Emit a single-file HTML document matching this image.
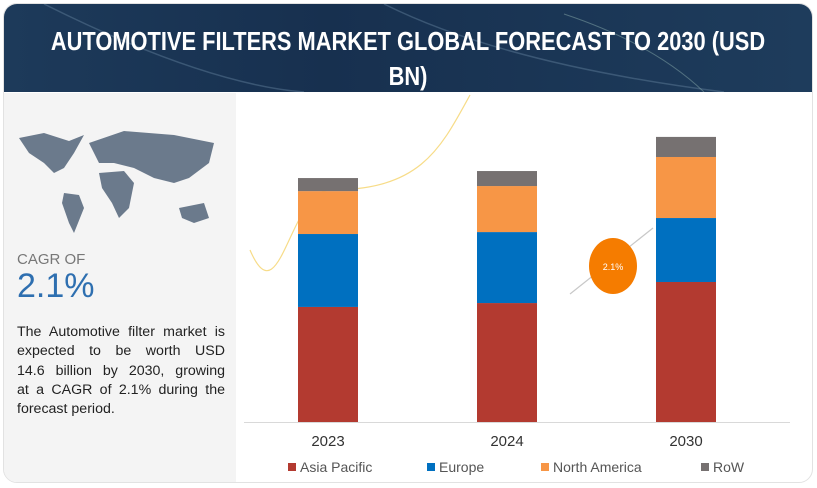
<!DOCTYPE html>
<html><head><meta charset="utf-8"><style>
body{margin:0;width:817px;height:488px;background:#fff;font-family:"Liberation Sans",sans-serif;overflow:hidden;position:relative}
.card{position:absolute;left:3px;top:3px;width:808px;height:478px;border-radius:14px;border:1px solid #e2e2e2;overflow:hidden;background:#fff}
.hdr{position:absolute;left:0;top:0;width:808px;height:88px;background:linear-gradient(90deg,#1d3a5a,#17304f 40%,#1e3c5c);}
.hdr h1{margin:0;position:absolute;left:-46px;width:900px;top:20px;color:#fff;font-size:26px;line-height:35px;text-align:center;font-weight:bold;transform:scaleX(0.84);transform-origin:center}
.left{position:absolute;left:0;top:89px;width:232px;height:390px;background:#f4f4f4}
.sum div{text-align:justify;text-align-last:justify;white-space:nowrap}
.sum div.last{text-align-last:left}
</style></head><body>
<div class="card">
<div class="hdr">
<svg width="808" height="88" style="position:absolute;left:0;top:0">
<path d="M40 0 Q200 80 300 88" stroke="#5c7a95" fill="none" stroke-width="1.5" opacity=".5"/>
<path d="M380 0 Q500 60 720 88" stroke="#5c7a95" fill="none" stroke-width="1.5" opacity=".5"/>
<path d="M560 10 Q650 40 700 88" stroke="#8aa" fill="none" stroke-width="1" opacity=".5"/>
</svg>
<h1>AUTOMOTIVE FILTERS MARKET GLOBAL FORECAST TO 2030 (USD<br>BN)</h1>
</div>
<div class="left">
<svg width="232" height="140" style="position:absolute;left:10px;top:30px">
<path d="M5 15 L30 10 L55 18 L70 12 L60 30 L50 45 L40 50 L30 40 L15 30 Z" fill="#6b7a8c"/>
<path d="M50 70 L65 72 L70 85 L60 110 L55 100 L48 80 Z" fill="#6b7a8c"/>
<path d="M75 20 L110 8 L160 12 L200 20 L195 40 L175 55 L160 60 L140 55 L120 45 L100 40 L85 40 Z" fill="#6b7a8c"/>
<path d="M85 50 L110 48 L120 60 L115 85 L105 95 L98 80 L88 65 Z" fill="#6b7a8c"/>
<path d="M165 85 L190 80 L195 95 L180 100 L168 95 Z" fill="#6b7a8c"/>
</svg>
<div style="position:absolute;left:13px;top:158px;font-size:15px;color:#777">CAGR OF</div>
<div style="position:absolute;left:13px;top:174px;font-size:34px;color:#2e6fb0">2.1%</div>
<div class="sum" style="position:absolute;left:13px;top:230px;width:208px;font-size:14.2px;line-height:19.3px;color:#222"><div>The Automotive filter market is</div><div>expected to be worth USD</div><div>14.6 billion by 2030, growing</div><div>at a CAGR of 2.1% during the</div><div class="last">forecast period.</div></div>
</div>
</div>
<svg id="chart" width="817" height="488" style="position:absolute;left:0;top:0"></svg>
<script>
const categories=["2023","2024","2030"];
const asiaPacific=[5.9,6.1,7.18];
const europe=[3.74,3.64,3.28];
const northAmerica=[2.2,2.36,3.13];
const row=[0.67,0.77,1.03];
const seriesNames=["Asia Pacific","Europe","North America","RoW"];
const NS="http://www.w3.org/2000/svg";
const svg=document.getElementById('chart');
const colors=["#b33a30","#0070c0","#f79646","#767171"];
const series=[asiaPacific,europe,northAmerica,row];
const base=422,ppu=19.5,x0=244,x1=790,barW=60;
function y(v){return base-v*ppu;}
function xc(i){return 328+i*179;}
function mk(t,a){const e=document.createElementNS(NS,t);for(const k in a)e.setAttribute(k,a[k]);svg.appendChild(e);return e;}
let d1=mk('path',{d:"M250 250 C280 320 290 190 330 190 C420 190 440 150 470 95",stroke:"#f5d36a",fill:"none","stroke-width":"1.2",opacity:".8"});


categories.forEach((c,i)=>{
 let acc=0;
 series.forEach((s,j)=>{
  const r=mk('rect',{x:xc(i)-barW/2,y:y(acc+s[i]),width:barW,height:s[i]*ppu,fill:colors[j]});
  
  
  acc+=s[i];
 });
 const t=mk('text',{x:xc(i),y:446,"text-anchor":"middle","font-size":"15",fill:"#333","font-family":"Liberation Sans"});
 t.textContent=c;
 
 
});
const ax=mk('line',{x1:x0,x2:x1,y1:base+0.5,y2:base+0.5,stroke:"#d9d9d9"});


const arr=mk('line',{x1:570,y1:294,x2:653,y2:228,stroke:"#c8c8c8","stroke-width":"1.2"});


const circ=mk('ellipse',{cx:613,cy:266,rx:24,ry:28,fill:"#f57c00"});


const ct=mk('text',{x:613,y:270,"text-anchor":"middle","font-size":"9",fill:"#fff","font-family":"Liberation Sans"});
ct.textContent="2.1%";


const lx=[288,427,541,701];
seriesNames.forEach((n,j)=>{
 const r=mk('rect',{x:lx[j],y:463,width:8,height:8,fill:colors[j]});
 
 
 const t=mk('text',{x:lx[j]+12,y:472,"font-size":"14",fill:"#555","font-family":"Liberation Sans"});
 t.textContent=n;
 
 
});
</script>
</body></html>
